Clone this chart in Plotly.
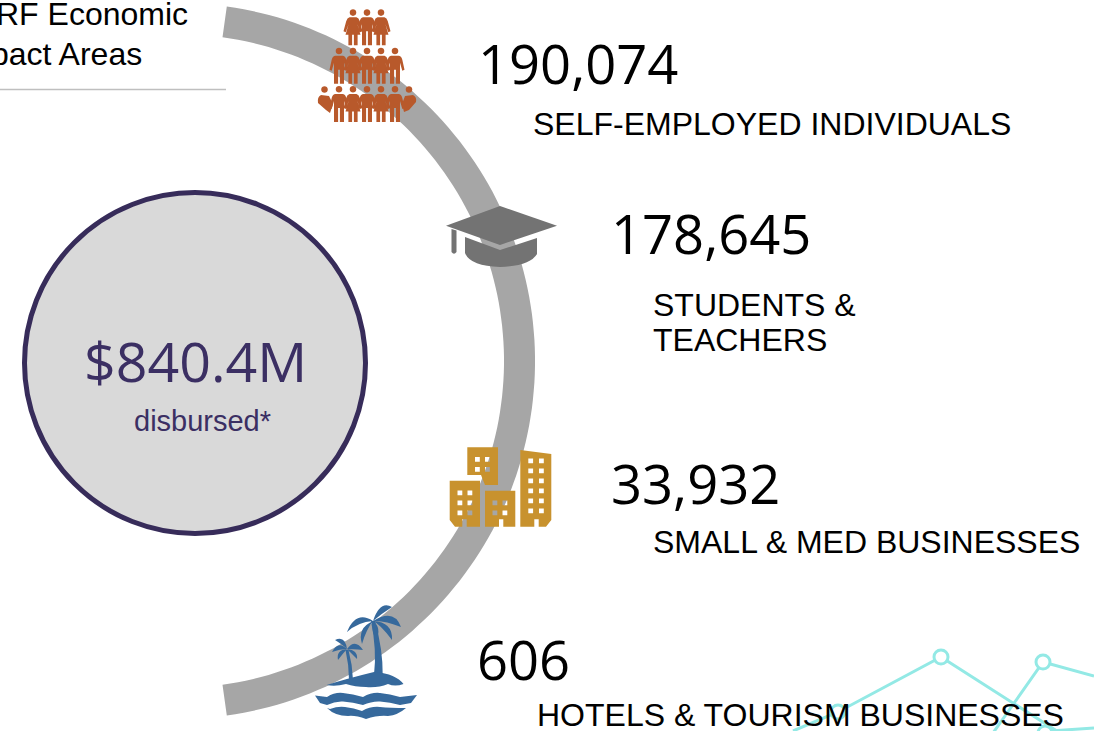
import numpy as np
import plotly.graph_objects as go

W, H = 1094, 731

# ---- content ----
counts = ["190,074", "178,645", "33,932", "606"]
count_x = [478, 611, 611, 477]
count_y = [63, 233, 483, 659]
label_lines = [["SELF-EMPLOYED INDIVIDUALS"], ["STUDENTS &", "TEACHERS"],
               ["SMALL & MED BUSINESSES"], ["HOTELS & TOURISM BUSINESSES"]]
label_x = [533, 652.5, 652.5, 536.5]
label_y = [[124], [305, 340], [542], [715]]
total_text = "$840.4M"
total_sub = "disbursed*"
title_lines = ["RF Economic", "pact Areas"]
title_right = [188, 142]
title_y = [14, 54]

# faint line chart running behind the bottom-right corner
line_a_x = [793, 838, 941, 1043, 1060]
line_a_y = [731, 712, 657, 722, 733]
line_b_x = [993, 1043, 1094]
line_b_y = [733, 662, 676]
line_c_x = [1050, 1094]
line_c_y = [731, 728]
pt_x = [838, 941, 1043, 1045]
pt_y = [712, 657, 662, 733]

GREY = "#A6A6A6"
INK = "#3B2F63"
RUST = "#B8592B"
CAP = "#737373"
GOLD = "#C8922E"
BLUE = "#36699C"
TEAL = "#93E9E5"

shapes = []


def add_path(d, color):
    shapes.append(dict(type="path", path=d, fillcolor=color, line=dict(width=0),
                       xref="x", yref="y", layer="below"))


# ---- big arc ----
cx, cy, r0, r1 = 177, 361, 327, 358
ang = np.radians(np.linspace(-82, 82, 120))
outer = [(cx + r1 * np.cos(a), cy + r1 * np.sin(a)) for a in ang]
inner = [(cx + r0 * np.cos(a), cy + r0 * np.sin(a)) for a in ang[::-1]]
add_path("M" + " L".join(f"{x:.1f},{y:.1f}" for x, y in outer + inner) + " Z", GREY)

# ---- disc and rule ----
shapes.append(dict(type="circle", x0=24.5, x1=365.5, y0=192.5, y1=533.5, xref="x", yref="y",
                   fillcolor="#D9D9D9", line=dict(color="#372C5A", width=5), layer="below"))
shapes.append(dict(type="line", x0=0, x1=226, y0=89.5, y1=89.5, xref="x", yref="y",
                   line=dict(color="#BFBFBF", width=1.5), layer="below"))


# ---- people ----
def head(x, y, r=3.3):
    k = 1.333 * r
    return (f"M{x - r},{y} C{x - r},{y - k:.1f} {x + r},{y - k:.1f} {x + r},{y} "
            f"C{x + r},{y + k:.1f} {x - r},{y + k:.1f} {x - r},{y} Z")


def man(x, y):
    return head(x, y + 3.3) + (
        f" M{x-4},{y+8} L{x+4},{y+8} Q{x+6.5},{y+8.5} {x+7.3},{y+12} L{x+9.5},{y+22} L{x+7.3},{y+23} "
        f"L{x+5},{y+15} L{x+5},{y+36} L{x+0.9},{y+36} L{x+0.9},{y+22} L{x-0.9},{y+22} "
        f"L{x-0.9},{y+36} L{x-5},{y+36} L{x-5},{y+15} L{x-7.3},{y+23} L{x-9.5},{y+22} "
        f"L{x-7.3},{y+12} Q{x-6.5},{y+8.5} {x-4},{y+8} Z")


def woman(x, y):
    return head(x, y + 3.3) + (
        f" M{x-3.5},{y+8} L{x+3.5},{y+8} Q{x+5.8},{y+8.5} {x+6.8},{y+12} L{x+9.5},{y+22} L{x+7.3},{y+23} "
        f"L{x+4.4},{y+15} L{x+7.5},{y+25.5} L{x+4.6},{y+25.5} L{x+4.6},{y+36} L{x+0.9},{y+36} L{x+0.9},{y+25.5} "
        f"L{x-0.9},{y+25.5} L{x-0.9},{y+36} L{x-4.6},{y+36} L{x-4.6},{y+25.5} L{x-7.5},{y+25.5} L{x-4.4},{y+15} "
        f"L{x-7.3},{y+23} L{x-9.5},{y+22} L{x-6.8},{y+12} Q{x-5.8},{y+8.5} {x-3.5},{y+8} Z")


top_row = [(353, woman), (367, man), (381, woman)]
mid_row = [(339, man), (353, woman), (367, man), (381, woman), (395, man)]
low_row = [(339, man), (353, woman), (367, man), (381, woman), (395, man)]
for x, f in top_row:
    add_path(f(x, 9.3), RUST)
for x, f in mid_row:
    add_path(f(x, 47.7), RUST)
for x, f in low_row:
    add_path(f(x, 86), RUST)
add_path(head(324.5, 89.5) + " M321,95 L329,96 L333,104 L330,113 L326,110 L318,103 Q317,97 321,95 Z", RUST)
add_path(head(409, 89.5) + " M405,96 L413,95 Q417,97 416,102 L409,110 L404,112 L402,104 Z", RUST)

# ---- mortar board ----
add_path("M500,206 L557,225.7 L500,245 L446,225.7 Z", CAP)
add_path("M451.5,229 L456.5,230.5 L456.5,252 Q454,255.5 451.5,252 Z", CAP)
add_path("M465,237 L500,250 L537,238 L537,254 Q530,266 500,267 Q470,266 465,253 Z", CAP)


# ---- buildings ----
def holes(xs, ys, s=4.8):
    # opposite winding so the holes stay see-through
    return "".join(f" M{x},{y} L{x},{y+s} L{x+s},{y+s} L{x+s},{y} Z" for x in xs for y in ys)


add_path("M467.3,447.3 L498,447.3 L498,485 L485,485 L481,475 L467.3,475 Z"
         + holes([475, 485], [457, 467]), GOLD)
add_path("M449.7,480.7 L480,480.7 L480,526.7 L466.7,526.7 L466.7,519.3 L462.3,519.3 L462.3,526.7 "
         "L455,526.7 L449.7,520 Z" + holes([457.5, 467.5], [490.5, 500.5, 510.5]), GOLD)
add_path("M485,490.7 L515.3,490.7 L515.3,526.7 L503.3,526.7 L503.3,519.3 L499,519.3 L499,526.7 L485,526.7 Z"
         + holes([492.5, 502.5], [500.5, 510.5]), GOLD)
add_path("M520.3,450 L551.3,454 L551.3,520 L546,526.7 L538.7,526.7 L538.7,519.3 L534.3,519.3 L534.3,526.7 "
         "L520.3,526.7 Z" + holes([528.3, 539], [458.5, 468.5, 478.5, 488.5, 498.5, 508.5]), GOLD)


# ---- island ----
def frond(c, tip, a, b):
    return f"M{c[0]},{c[1]} Q{a[0]},{a[1]} {tip[0]},{tip[1]} Q{b[0]},{b[1]} {c[0]},{c[1]} Z"


big = (373, 621)
small = (347, 649)
palm_fronds = [
    (big, (347, 632), (356, 610), (358, 622)),
    (big, (362, 644), (357, 628), (366, 630)),
    (big, (392, 607), (380, 600), (381, 614)),
    (big, (401, 627), (394, 608), (384, 620)),
    (big, (392, 640), (393, 622), (380, 624)),
    (big, (376, 640), (382, 628), (371, 630)),
    (small, (332, 652), (338, 640), (340, 649)),
    (small, (335, 640), (345, 635), (343, 645)),
    (small, (363, 650), (355, 638), (352, 649)),
    (small, (338, 660), (336, 650), (345, 651)),
    (small, (357, 659), (358, 650), (349, 651)),
]
for c, tip, a, b in palm_fronds:
    add_path(frond(c, tip, a, b), BLUE)
add_path("M374,675 Q377,650 371,621 L375,621 Q383,650 382.7,675 Z", BLUE)
add_path("M349,680 Q349,665 345.5,650 L348.5,650 Q352.5,665 353,680 Z", BLUE)
add_path("M326.7,685 Q345,679 375,671.7 Q396,674 403.5,684 Q395,687 388,684 Q378,688 366,687 "
         "Q355,687 346,684 Q335,687 326.7,685 Z", BLUE)
add_path("M315,695.5 L327,697 Q335,692 343,693 Q353,694 363,697 Q372,692 380,693 Q390,694 400,697 L417,695 "
         "L411,703 L400,705 Q390,702 380,701.5 Q372,701 363,705 Q353,702 343,701.5 Q335,701 327,705 L320,703 Z", BLUE)
add_path("M327,708 L330,709 Q338,706 345,707 Q354,708 362,711 Q371,706 380,707 Q390,708 406,708 "
         "Q398,715 388,716 Q378,715 366,719 Q355,715 348,716 Q335,716 327,708 Z", BLUE)

# ---- texts ----
ann = []


def txt(x, y, s, size, color="#000000", fam="Liberation Sans", anchor="left"):
    ann.append(dict(x=x, y=y, text=s, xref="x", yref="y", showarrow=False, xanchor=anchor, yanchor="middle",
                    font=dict(family=fam, size=size, color=color), borderpad=0, borderwidth=0))


for s, x, y in zip(counts, count_x, count_y):
    txt(x, y, s, 54.3, fam="Open Sans")
for lines, x, ys in zip(label_lines, label_x, label_y):
    for s, y in zip(lines, ys):
        txt(x, y, s, 32)
txt(195, 360, total_text, 55.5, INK, "Open Sans", "center")
txt(202, 421, total_sub, 29, INK, anchor="center")
for s, x, y in zip(title_lines, title_right, title_y):
    txt(x, y, s, 32, anchor="right")

fig = go.Figure()
for xs, ys in [(line_a_x, line_a_y), (line_b_x, line_b_y), (line_c_x, line_c_y)]:
    fig.add_trace(go.Scatter(x=xs, y=ys, mode="lines", line=dict(color=TEAL, width=3), hoverinfo="skip"))
fig.add_trace(go.Scatter(x=pt_x, y=pt_y, mode="markers", hoverinfo="skip",
                         marker=dict(size=14, color="white", line=dict(color=TEAL, width=3))))

fig.update_layout(
    width=W, height=H, autosize=False, showlegend=False,
    margin=dict(l=0, r=0, t=0, b=0, pad=0),
    paper_bgcolor="white", plot_bgcolor="white",
    xaxis=dict(range=[0, W], visible=False, fixedrange=True),
    yaxis=dict(range=[H, 0], visible=False, fixedrange=True),
    shapes=shapes, annotations=ann,
)
fig.write_html("out.html", config={"displayModeBar": False},
               post_script="document.body.style.margin='0';document.body.style.overflow='hidden';")
